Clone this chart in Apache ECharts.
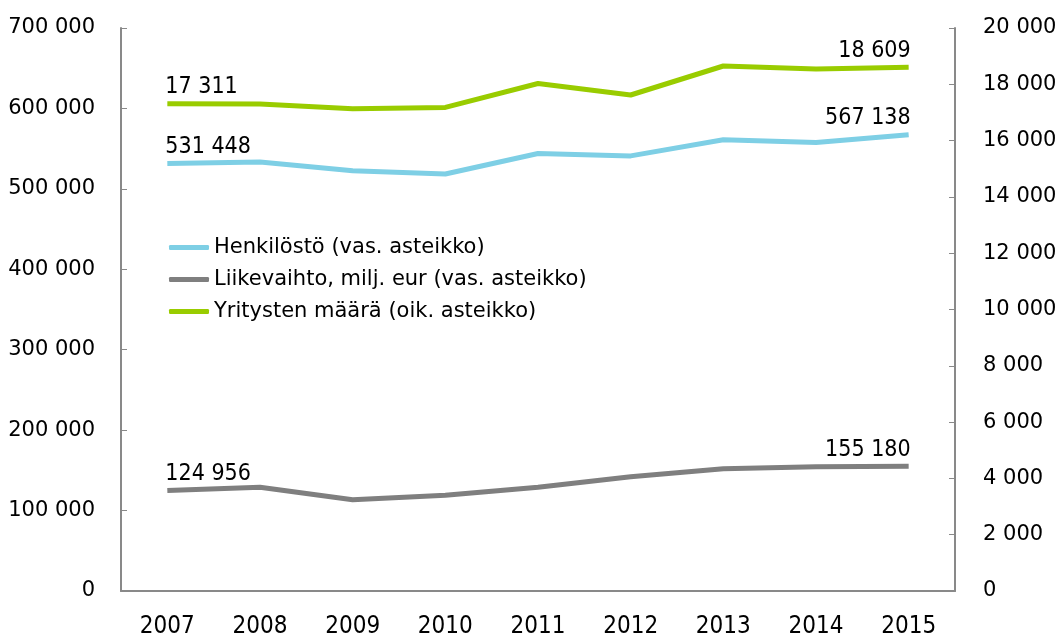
<!DOCTYPE html>
<html lang="fi">
<head>
<meta charset="UTF-8">
<title>Henkilöstö, liikevaihto ja yritysten määrä</title>
<script src="https://cdn.jsdelivr.net/npm/echarts@6/dist/echarts.min.js"></script>
<style>
  html, body { margin: 0; padding: 0; background: #fff; }
  #main { width: 1061px; height: 639px; }
</style>
</head>
<body>
<div id="main"></div>
<script>
// data
var years = ['2007', '2008', '2009', '2010', '2011', '2012', '2013', '2014', '2015'];
var henkilosto = [531448, 533500, 522500, 518500, 544000, 541000, 561000, 557500, 567138];
var liikevaihto = [124956, 129000, 113500, 119000, 129000, 142000, 152000, 154500, 155180];
var yritykset = [17311, 17300, 17130, 17180, 18030, 17620, 18650, 18540, 18609];

var seriesNames = ['Henkilöstö (vas. asteikko)', 'Liikevaihto, milj. eur (vas. asteikko)', 'Yritysten määrä (oik. asteikko)'];
var colors = ['#7ecfe5', '#7f7f7f', '#99cc00'];

function fmt(v) {
    return String(v).replace(/\B(?=(\d{3})+(?!\d))/g, ' ');
}

var narrow = '"Liberation Sans Narrow", "DejaVu Sans Condensed", sans-serif';
var wide = '"DejaVu Sans", Verdana, sans-serif';
var axisGrey = '#898989';

// label only on first and last point
function withEndLabels(arr) {
    return arr.map(function (v, i) {
        var d = { value: v };
        if (i === 0) {
            d.label = { show: true, position: 'top', align: 'left', offset: [-2, 0] };
        } else if (i === arr.length - 1) {
            d.label = { show: true, position: 'top', align: 'right', offset: [2, 0] };
        }
        return d;
    });
}

function lineSeries(idx, axis, arr) {
    return {
        name: seriesNames[idx],
        type: 'line',
        yAxisIndex: axis,
        data: withEndLabels(arr),
        symbol: 'circle',
        symbolSize: 0.01,
        lineStyle: { width: 5 },
        label: {
            show: false,
            fontFamily: narrow, fontSize: 23, color: '#000',
            formatter: function (p) { return fmt(p.value); }
        }
    };
}

var myChart = echarts.init(document.getElementById('main'));
var option = {
    animation: false,
    color: colors,
    grid: { left: 121, right: 106, top: 28, bottom: 46 },
    legend: {
        orient: 'vertical',
        left: 164,
        top: 232,
        itemWidth: 40,
        itemHeight: 5,
        itemGap: 11,
        icon: 'roundRect',
        textStyle: { fontFamily: wide, fontSize: 21, color: '#000' },
        data: seriesNames
    },
    xAxis: {
        type: 'category',
        data: years,
        boundaryGap: true,
        axisLine: { lineStyle: { color: axisGrey, width: 2 } },
        axisTick: { inside: true, length: 6, lineStyle: { color: axisGrey } },
        axisLabel: { fontFamily: narrow, fontSize: 24, color: '#000', margin: 24 }
    },
    yAxis: [{
        type: 'value',
        min: 0, max: 700000, interval: 100000,
        splitLine: { show: false },
        axisLine: { show: true, lineStyle: { color: axisGrey, width: 2 } },
        axisTick: { show: true, inside: true, length: 6, lineStyle: { color: axisGrey } },
        axisLabel: { fontFamily: wide, fontSize: 21, color: '#000', margin: 26, formatter: fmt }
    }, {
        type: 'value',
        min: 0, max: 20000, interval: 2000,
        splitLine: { show: false },
        axisLine: { show: true, lineStyle: { color: axisGrey, width: 2 } },
        axisTick: { show: true, inside: true, length: 6, lineStyle: { color: axisGrey } },
        axisLabel: { fontFamily: wide, fontSize: 21, color: '#000', margin: 28, formatter: fmt }
    }],
    series: [
        lineSeries(0, 0, henkilosto),
        lineSeries(1, 0, liikevaihto),
        lineSeries(2, 1, yritykset)
    ]
};
myChart.setOption(option);
</script>
</body>
</html>
